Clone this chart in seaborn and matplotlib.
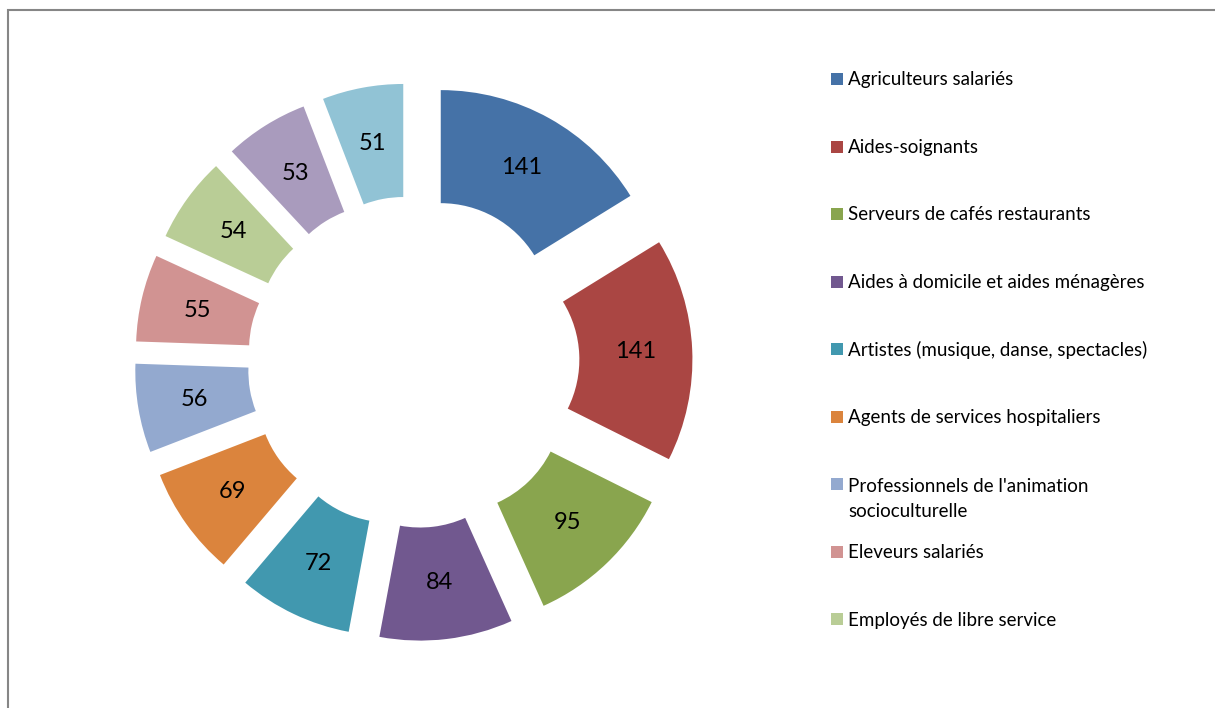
import matplotlib.pyplot as plt
import matplotlib.patches as mpatches
import seaborn as sns

# Values shown on the doughnut, clockwise from 12 o'clock
values = [141, 141, 95, 84, 72, 69, 56, 55, 54, 53, 51]

# Legend entries visible in the chart (the last two are cut off in the original)
legend_labels = [
    "Agriculteurs salariés",
    "Aides-soignants",
    "Serveurs de cafés restaurants",
    "Aides à domicile et aides ménagères",
    "Artistes (musique, danse, spectacles)",
    "Agents de services hospitaliers",
    "Professionnels de l'animation\nsocioculturelle",
    "Eleveurs salariés",
    "Employés de libre service",
]

# Office 2007 style palette
colors = sns.color_palette([
    "#4572A7", "#AA4643", "#89A54E", "#71588F", "#4198AF", "#DB843D",
    "#93A9CF", "#D19392", "#B9CD96", "#A99BBD", "#91C3D5",
])

sns.set_theme(style="white")
plt.rcParams['font.family'] = ['Lato', 'DejaVu Sans']

W, H = 1215, 708
fig = plt.figure(figsize=(W / 100, H / 100), dpi=100)

# square axes centred on the doughnut
cx, cy, half = 413.5, 362, 334.5
ax = fig.add_axes([(cx - half) / W, (H - cy - half) / H, 2 * half / W, 2 * half / H])

total = sum(values)
wedges, texts, autotexts = ax.pie(
    values,
    colors=colors,
    startangle=90,
    counterclock=False,
    radius=1.0,
    explode=[0.251] * len(values),
    wedgeprops=dict(width=0.507, linewidth=0),
    autopct=lambda p: f"{p * total / 100:.0f}",
    pctdistance=0.747,
    textprops=dict(fontsize=17, color="black"),
)
ax.set_xlim(-1.5, 1.5)
ax.set_ylim(-1.5, 1.5)
ax.set_aspect('equal')
ax.axis('off')

# Legend drawn as a column of squares and labels
row0, step = 79, 67.56
box = 12
line_gap = 26
for i, lab in enumerate(legend_labels):
    yc = row0 + i * step
    extra = lab.count('\n') * line_gap  # baseline anchors the last line
    fig.patches.append(mpatches.Rectangle(
        (831 / W, 1 - (yc + box / 2) / H), box / W, box / H,
        transform=fig.transFigure, facecolor=colors[i], edgecolor='none'))
    fig.text(848 / W, 1 - (yc + 6.3 + extra) / H, lab, fontsize=13.5, color="black",
             va='baseline', ha='left', linespacing=1.58)

# chart area border (only top and left visible in the crop)
fig.patches.append(mpatches.Rectangle(
    (8 / W, -0.1), 1.2, 1.1 - 10 / H, transform=fig.transFigure,
    fill=False, edgecolor="#868686", linewidth=1.5, clip_on=False))

plt.savefig("out.png", dpi=100)
